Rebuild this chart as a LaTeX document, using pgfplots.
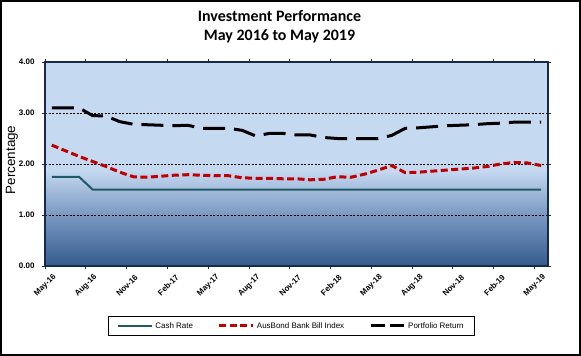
\documentclass[border=0pt]{standalone}
\usepackage{fontspec}
\setmainfont{Liberation Sans}
\newfontfamily\titlefont{Carlito}
\usepackage{pgfplots}
\usepackage{pgfplotstable}
\pgfplotsset{compat=1.18}
\definecolor{bgdark}{RGB}{52,92,142}
\definecolor{bgmid}{RGB}{122,152,194}
\definecolor{bglight}{RGB}{197,217,241}
\definecolor{framecol}{RGB}{22,42,78}
\definecolor{cashcol}{RGB}{33,89,103}
\definecolor{bbicol}{RGB}{192,0,0}
\pgfdeclareverticalshading{plotbg}{100bp}{color(0bp)=(bgdark); color(25bp)=(bgdark); color(37.5bp)=(bgmid); color(48.5bp)=(bglight); color(100bp)=(bglight)}
\pgfplotsset{portlegend/.style={legend image code/.code={\draw[##1, dash pattern=on 14bp off 5bp] (0bp,0bp) -- (34bp,0bp);}}}

\pgfplotstableread{
x cash bbi port
0.5 1.75 2.37 3.10
1.5 1.75 2.26 3.10
2.5 1.75 2.15 3.10
3.5 1.50 2.05 2.95
4.5 1.50 1.95 2.94
5.5 1.50 1.84 2.83
6.5 1.50 1.75 2.78
7.5 1.50 1.74 2.77
8.5 1.50 1.76 2.76
9.5 1.50 1.78 2.75
10.5 1.50 1.79 2.76
11.5 1.50 1.78 2.70
12.5 1.50 1.77 2.70
13.5 1.50 1.77 2.70
14.5 1.50 1.73 2.66
15.5 1.50 1.72 2.55
16.5 1.50 1.72 2.60
17.5 1.50 1.71 2.60
18.5 1.50 1.71 2.57
19.5 1.50 1.69 2.57
20.5 1.50 1.70 2.52
21.5 1.50 1.75 2.50
22.5 1.50 1.74 2.50
23.5 1.50 1.80 2.50
24.5 1.50 1.88 2.50
25.5 1.50 1.97 2.56
26.5 1.50 1.83 2.70
27.5 1.50 1.84 2.71
28.5 1.50 1.86 2.73
29.5 1.50 1.88 2.75
30.5 1.50 1.90 2.76
31.5 1.50 1.92 2.77
32.5 1.50 1.95 2.79
33.5 1.50 2.00 2.80
34.5 1.50 2.03 2.82
35.5 1.50 2.02 2.82
36.5 1.50 1.97 2.82
}\datatable

\begin{document}
\begin{tikzpicture}
\begin{axis}[
  at={(0,0)}, anchor=south west,
  scale only axis, width=503bp, height=204bp,
  xmin=0, xmax=37, ymin=0, ymax=4,
  axis background/.style={shading=plotbg},
  axis line style={framecol, line width=2bp},
  tick align=outside, major tick length=3bp,
  tick style={framecol, line width=0.8bp},
  xtick={0,3,...,36},
  xticklabels={May-16,Aug-16,Nov-16,Feb-17,May-17,Aug-17,Nov-17,Feb-18,May-18,Aug-18,Nov-18,Feb-19,May-19},
  xticklabel style={font=\bfseries\fontsize{8}{9}\selectfont, inner sep=0pt, xshift=10bp, yshift=-7bp, rotate=45, anchor=east},
  ytick={0,1,2,3,4},
  yticklabel style={font=\bfseries\fontsize{8}{9}\selectfont, xshift=-4bp, /pgf/number format/.cd, fixed, fixed zerofill, precision=2, assume math mode=true},
  ymajorgrids,
  major grid style={black, line width=0.6bp, dash pattern=on 2bp off 1.5bp},
  ylabel={Percentage},
  every axis y label/.style={at={(axis description cs:-0.0656,0.52)}, rotate=90, anchor=center, font=\fontsize{13.5}{15}\selectfont},
  legend columns=3,
  legend style={at={(axis description cs:0.49,-0.294)}, anchor=center, draw=black, line width=0.8bp,
    inner ysep=4bp, inner xsep=9bp,
    font=\fontsize{8}{9}\selectfont, /tikz/every even column/.append style={column sep=23bp}},
  legend image code/.code={\draw[#1] (0bp,0bp) -- (34bp,0bp);},
]
\addplot[cashcol, line width=2bp] table[x=x, y=cash] {\datatable};
\addlegendentry{Cash Rate}
\addplot[bbicol, line width=3bp, dash pattern=on 7bp off 3.5bp] table[x=x, y=bbi] {\datatable};
\addlegendentry{AusBond Bank Bill Index}
\addplot[black, line width=3bp, dash pattern=on 22bp off 9bp, portlegend] table[x=x, y=port] {\datatable};
\addlegendentry{Portfolio Return}
\end{axis}
\node[font=\titlefont\bfseries\fontsize{16}{19.5}\selectfont, align=center] at (234.5bp,239bp) {Investment Performance\\May 2016 to May 2019};
\draw[black, line width=2bp] (-44bp,-89bp) rectangle (535bp,265bp);
\pgfresetboundingbox
\useasboundingbox (-45bp,-90bp) rectangle (536bp,266bp);
\end{tikzpicture}
\end{document}
